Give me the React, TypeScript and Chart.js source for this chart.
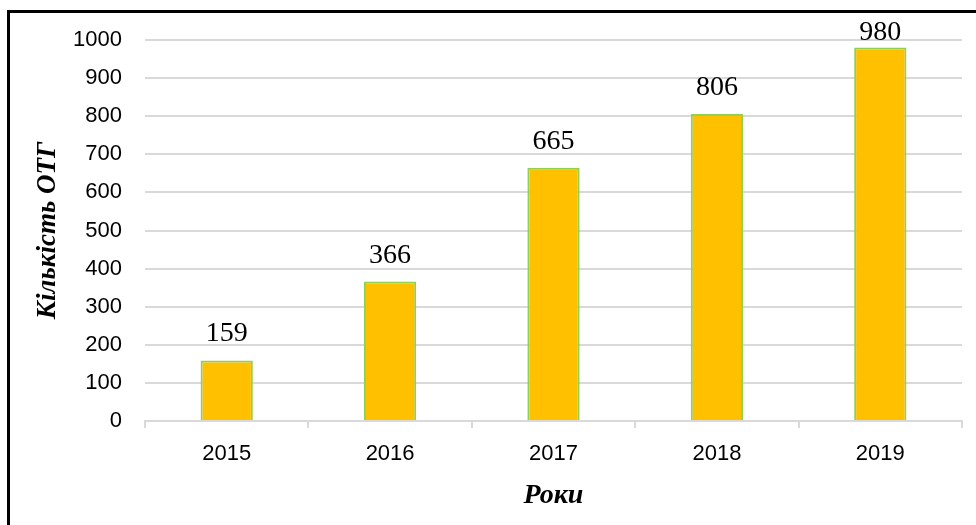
import React, { useEffect, useRef } from "react";
import { Chart, registerables } from "chart.js";

Chart.register(...registerables);

const years = ["2015", "2016", "2017", "2018", "2019"];
const counts = [159, 366, 665, 806, 980];
const yTitle = "Кількість ОТГ";
const xTitle = "Роки";

const labelPlugin = {
  id: "valueLabels",
  afterDatasetsDraw(chart: any) {
    const { ctx, chartArea } = chart;
    const meta = chart.getDatasetMeta(0);
    ctx.save();
    ctx.font = "28px 'Liberation Serif', serif";
    ctx.fillStyle = "#000";
    ctx.textAlign = "center";
    ctx.textBaseline = "alphabetic";
    meta.data.forEach((bar: any, i: number) => {
      const y = Math.max(bar.y - 19, chartArea.top);
      ctx.fillText(String(counts[i]), bar.x, y);
    });
    ctx.restore();
  },
};

const titlePlugin = {
  id: "axisTitles",
  afterDraw(chart: any) {
    const { ctx, chartArea } = chart;
    ctx.save();
    ctx.fillStyle = "#000";
    ctx.font = "bold italic 28px 'Liberation Serif', serif";
    ctx.textAlign = "center";
    ctx.textBaseline = "alphabetic";
    ctx.fillText(xTitle, (chartArea.left + chartArea.right) / 2, 503);
    ctx.font = "bold italic 27px 'Liberation Serif', serif";
    ctx.translate(55, (chartArea.top + chartArea.bottom) / 2);
    ctx.rotate(-Math.PI / 2);
    ctx.fillText(yTitle, 0, 0);
    ctx.restore();
  },
};

export default function App() {
  const ref = useRef<HTMLCanvasElement>(null);
  useEffect(() => {
    if (!ref.current) return;
    const chart = new Chart(ref.current, {
      type: "bar",
      data: {
        labels: years,
        datasets: [
          {
            data: counts,
            backgroundColor: "#FFC000",
            borderColor: "#92D050",
            borderWidth: 2,
            categoryPercentage: 1,
            barPercentage: 0.32,
          },
        ],
      },
      options: {
        animation: false,
        responsive: true,
        maintainAspectRatio: false,
        layout: { padding: { top: 40, right: 14, left: 0, bottom: 0 } },
        plugins: { legend: { display: false }, tooltip: { enabled: false } },
        scales: {
          x: {
            grid: {
              offset: true,
              drawOnChartArea: false,
              drawTicks: true,
              tickLength: 7,
              color: "#d9d9d9",
              lineWidth: 2,
            },
            border: { color: "#d9d9d9", width: 2 },
            ticks: {
              color: "#000",
              padding: 13,
              font: { family: "'Liberation Sans', sans-serif", size: 22 },
            },
            afterFit: (s: any) => {
              s.height = 525 - 421;
            },
          },
          y: {
            min: 0,
            max: 1000,
            ticks: {
              stepSize: 100,
              color: "#000",
              padding: 23,
              font: { family: "'Liberation Sans', sans-serif", size: 22 },
              callback: (v: any) => String(v),
            },
            grid: { color: "#d9d9d9", lineWidth: 2, drawTicks: false },
            border: { display: false },
            afterFit: (s: any) => {
              s.width = 145;
            },
          },
        },
      },
      plugins: [labelPlugin, titlePlugin],
    });
    return () => chart.destroy();
  }, []);
  return (
    <div style={{ position: "fixed", left: 0, top: 0, width: 976, height: 525, background: "#fff", overflow: "hidden" }}>
      <div
        style={{
          position: "absolute",
          left: 7,
          top: 10,
          width: 1000,
          height: 600,
          borderLeft: "3px solid #000",
          borderTop: "3px solid #000",
          boxSizing: "border-box",
        }}
      />
      <div style={{ position: "absolute", left: 0, top: 0, width: 976, height: 525 }}>
        <canvas ref={ref} />
      </div>
    </div>
  );
}
